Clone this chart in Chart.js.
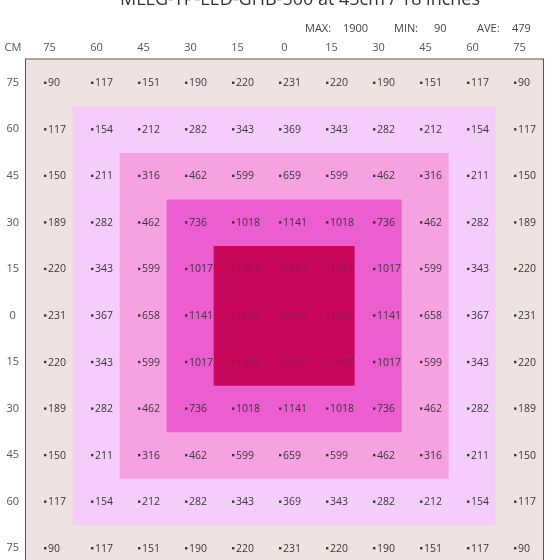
<!DOCTYPE html>
<html>
<head>
<meta charset="utf-8">
<script src="https://cdn.jsdelivr.net/npm/chart.js@4/dist/chart.umd.min.js"></script>
<style>
html, body { margin: 0; padding: 0; background: #ffffff; overflow: hidden; width: 560px; height: 560px; }
#wrap { position: absolute; left: 0; top: 0; width: 560px; height: 600px; }
</style>
</head>
<body>
<div id="wrap"><canvas id="c" width="560" height="600"></canvas></div>
<script>
// ---------- data ----------
const titleText = 'MLLG-TP-LED-GHB-500 at 45cm / 18 inches';
const unitLabel = 'CM';
const colLabels = ['75', '60', '45', '30', '15', '0', '15', '30', '45', '60', '75'];
const rowLabels = ['75', '60', '45', '30', '15', '0', '15', '30', '45', '60', '75'];

const row75n = [90, 117, 151, 190, 220, 231, 220, 190, 151, 117, 90];
const row60n = [117, 154, 212, 282, 343, 369, 343, 282, 212, 154, 117];
const row45n = [150, 211, 316, 462, 599, 659, 599, 462, 316, 211, 150];
const row30n = [189, 282, 462, 736, 1018, 1141, 1018, 736, 462, 282, 189];
const row15n = [220, 343, 599, 1017, 1467, 1667, 1467, 1017, 599, 343, 220];
const row0 = [231, 367, 658, 1141, 1666, 1900, 1666, 1141, 658, 367, 231];
const row15s = [220, 343, 599, 1017, 1467, 1667, 1467, 1017, 599, 343, 220];
const row30s = [189, 282, 462, 736, 1018, 1141, 1018, 736, 462, 282, 189];
const row45s = [150, 211, 316, 462, 599, 659, 599, 462, 316, 211, 150];
const row60s = [117, 154, 212, 282, 343, 369, 343, 282, 212, 154, 117];
const row75s = [90, 117, 151, 190, 220, 231, 220, 190, 151, 117, 90];

const statNames = ['MAX:', 'MIN:', 'AVE:'];
const statValues = [1900, 90, 479];

// ---------- styles ----------
const zoneColors = ['#efe3e1', '#f5cdfa', '#f7a2e0', '#ec5dcf', '#c8075a'];
const textColor = '#3d3340';
const innerTextColor = '#8e1a4f';
const axisColor = '#555555';
const FONT = '"Open Sans", "DejaVu Sans", sans-serif';

const grid = [row75n, row60n, row45n, row30n, row15n, row0, row15s, row30s, row45s, row60s, row75s];
const last = colLabels.length - 1;
const topZone = zoneColors.length - 1;
const zoneOf = (r, c) => Math.min(topZone, r, c, last - r, last - c);

const datasets = grid.map((row, r) => ({
  label: rowLabels[r],
  data: row.map(() => [r, r + 1]),
  cellValues: row,
  backgroundColor: row.map((v, c) => zoneColors[zoneOf(r, c)]),
  borderWidth: 0,
  grouped: false,
  categoryPercentage: 1,
  barPercentage: 1
}));

const decor = {
  id: 'decor',
  afterDatasetsDraw(chart) {
    const ctx = chart.ctx;
    const area = chart.chartArea;
    ctx.save();
    ctx.font = '10.5px ' + FONT;
    ctx.textBaseline = 'middle';
    ctx.textAlign = 'left';
    chart.data.datasets.forEach((ds, r) => {
      const meta = chart.getDatasetMeta(r);
      meta.data.forEach((el, c) => {
        const p = el.getCenterPoint();
        const col = zoneOf(r, c) === topZone ? innerTextColor : textColor;
        ctx.fillStyle = col;
        ctx.fillRect(p.x - 5.5, p.y - 1.2, 2.4, 2.4);
        ctx.fillText(String(ds.cellValues[c]), p.x - 1.5, p.y + 0.5);
      });
    });
    // frame
    ctx.strokeStyle = axisColor;
    ctx.lineWidth = 1;
    ctx.strokeRect(area.left - 0.5, area.top - 0.5, area.right - area.left + 1, area.bottom - area.top + 1);
    ctx.restore();
  },
  afterDraw(chart) {
    const ctx = chart.ctx;
    const area = chart.chartArea;
    ctx.save();
    // title (partly above the visible page, as in the reference)
    ctx.fillStyle = '#333333';
    ctx.font = '18px ' + FONT;
    ctx.textAlign = 'center';
    ctx.textBaseline = 'alphabetic';
    ctx.fillText(titleText, 300, 5);
    // stats row
    ctx.font = '11px ' + FONT;
    ctx.fillStyle = '#444444';
    ctx.textAlign = 'left';
    ctx.textBaseline = 'middle';
    const nameX = [305, 394, 477];
    const valX = [343, 434, 512];
    statNames.forEach((n, i) => {
      ctx.fillText(n, nameX[i], 29);
      ctx.fillText(String(statValues[i]), valX[i], 29);
    });
    // unit label
    ctx.fillStyle = axisColor;
    ctx.textAlign = 'center';
    ctx.fillText(unitLabel, area.left / 2, 48);
    ctx.restore();
  }
};

new Chart(document.getElementById('c'), {
  type: 'bar',
  data: { labels: colLabels, datasets },
  options: {
    responsive: false,
    animation: false,
    events: [],
    layout: { padding: { top: 36, left: 0, right: 17, bottom: 28.5 } },
    plugins: { legend: { display: false }, tooltip: { enabled: false }, title: { display: false } },
    scales: {
      x: {
        type: 'category',
        position: 'top',
        grid: { display: false, drawTicks: false },
        border: { display: false },
        ticks: { color: axisColor, font: { size: 11, family: FONT }, padding: 5, maxRotation: 0, autoSkip: false },
        afterFit: (ax) => { ax.height = 23.5; }
      },
      y: {
        type: 'linear',
        min: 0,
        max: rowLabels.length,
        reverse: true,
        grid: { display: false, drawTicks: false },
        border: { display: false },
        afterBuildTicks: (ax) => { ax.ticks = rowLabels.map((l, i) => ({ value: i + 0.5 })); },
        ticks: {
          color: axisColor,
          font: { size: 11, family: FONT },
          padding: 7,
          crossAlign: 'center',
          autoSkip: false,
          callback: (v, i) => rowLabels[i]
        },
        afterFit: (ax) => { ax.width = 26; }
      }
    }
  },
  plugins: [decor]
});
</script>
</body>
</html>
